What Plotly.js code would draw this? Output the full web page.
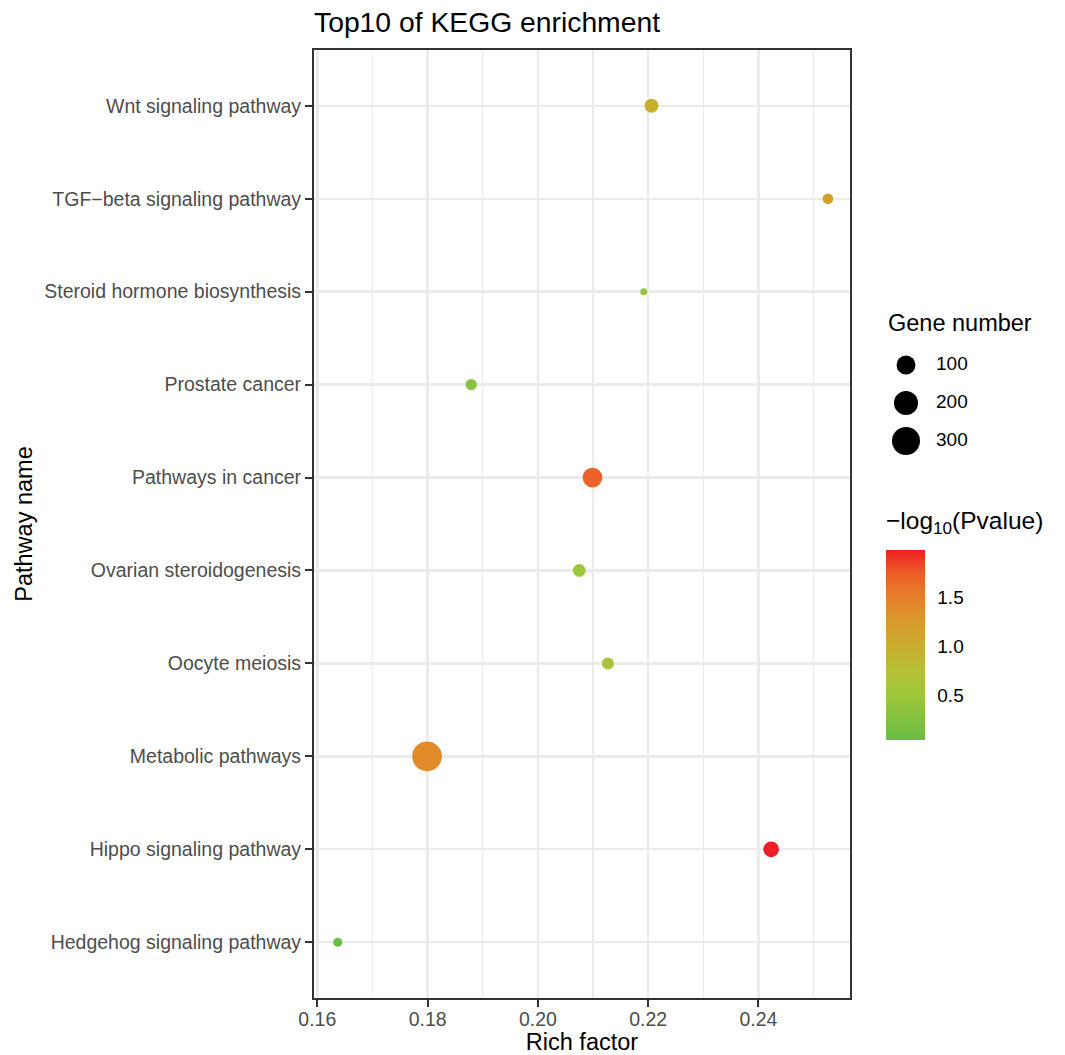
<!DOCTYPE html>
<html>
<head>
<meta charset="utf-8">
<script src="https://cdn.plot.ly/plotly-3.0.1.min.js"></script>
<style>html,body{margin:0;padding:0;background:#fff;}#chart{width:1065px;height:1055px;}</style>
</head>
<body>
<div id="chart"></div>
<script>
// ---------- data ----------
var pathways = [
  "Hedgehog signaling pathway",
  "Hippo signaling pathway",
  "Metabolic pathways",
  "Oocyte meiosis",
  "Ovarian steroidogenesis",
  "Pathways in cancer",
  "Prostate cancer",
  "Steroid hormone biosynthesis",
  "TGF\u2212beta signaling pathway",
  "Wnt signaling pathway"
];
var richFactor = [0.1637, 0.2423, 0.1799, 0.2127, 0.2075, 0.2099, 0.1879, 0.2192, 0.2526, 0.2206];
var geneNumber = [8, 56, 350, 22, 27, 113, 17, 5, 14, 38];
var negLog10P  = [0.04, 1.98, 1.40, 0.62, 0.48, 1.70, 0.30, 0.40, 1.22, 0.97];
var sizeLegendValues = [100, 200, 300];
var colorTickVals = [0.5, 1.0, 1.5];
var colorTickText = ["0.5", "1.0", "1.5"];

// ---------- styling helpers ----------
var FONT = "Liberation Sans, Arial, Helvetica, sans-serif";
var gMin = Math.min.apply(null, geneNumber), gMax = Math.max.apply(null, geneNumber);
function sizeOf(v){ var t = Math.max(0,(v-gMin)/(gMax-gMin)); return 7 + 22.7*Math.sqrt(t); }
var pMin = Math.min.apply(null, negLog10P), pMax = Math.max.apply(null, negLog10P);
var colorStops = [[0.04,"#6ABD45"],[0.25,"#82C13F"],[0.5,"#9EC73A"],[0.75,"#B6C034"],[1.0,"#C9AD2E"],[1.25,"#D89A2B"],[1.5,"#E6802A"],[1.75,"#EE5A26"],[1.98,"#EE1F24"]];
var colorscale = colorStops.map(function(s){ return [Math.min(1,Math.max(0,(s[0]-pMin)/(pMax-pMin))), s[1]]; });
colorscale[0][0] = 0; colorscale[colorscale.length-1][0] = 1;

// pixel geometry
var L = 314, R = 10, T = 50, B = 57, W = 1065 - L - R, H = 1055 - T - B;
function px2x(p){ return (p - L) / W; }
function px2y(p){ return (1055 - B - p) / H; }

var main = {
  type: "scatter", mode: "markers",
  x: richFactor, y: pathways,
  xaxis: "x", yaxis: "y",
  marker: {
    size: geneNumber.map(sizeOf),
    color: negLog10P, cmin: pMin, cmax: pMax, colorscale: colorscale,
    line: {width: 0}, opacity: 1,
    showscale: true,
    colorbar: {
      x: px2x(886), xanchor: "left", xpad: 0,
      y: px2y(645), yanchor: "middle", ypad: 0,
      len: 190, lenmode: "pixels", thickness: 39, thicknessmode: "pixels",
      outlinewidth: 0,
      tickvals: colorTickVals, ticktext: colorTickText,
      ticks: "outside", ticklen: 9, tickwidth: 1, tickcolor: "rgba(255,255,255,0)",
      tickfont: {family: FONT, size: 19, color: "#000"},
      title: {text: ""}
    }
  },
  hoverinfo: "skip", showlegend: false
};

var sizeLegend = {
  type: "scatter", mode: "markers",
  x: sizeLegendValues.map(function(){ return 0; }),
  y: sizeLegendValues.map(function(v,i){ return i; }),
  xaxis: "x2", yaxis: "y2",
  marker: {size: sizeLegendValues.map(sizeOf), color: "#000000", opacity: 1, line: {width: 0}},
  hoverinfo: "skip", showlegend: false
};
var sizeLegendText = {
  type: "scatter", mode: "text",
  x: sizeLegendValues.map(function(){ return 30; }),
  y: sizeLegendValues.map(function(v,i){ return i; }),
  text: sizeLegendValues.map(String),
  textposition: "middle right",
  textfont: {family: FONT, size: 19, color: "#000"},
  xaxis: "x2", yaxis: "y2",
  hoverinfo: "skip", showlegend: false
};

var layout = {
  width: 1065, height: 1055,
  margin: {l: L, r: R, t: T, b: B, pad: 0},
  paper_bgcolor: "#fff", plot_bgcolor: "#fff",
  font: {family: FONT, color: "#000"},
  title: {text: "Top10 of KEGG enrichment", x: 0, xref: "paper", xanchor: "left",
          y: 1 - 22/1055, yref: "container", yanchor: "middle",
          font: {family: FONT, size: 28.3, color: "#000"}},
  xaxis: {
    domain: [0, 536 / W], range: [0.1594, 0.2566], automargin: false,
    tick0: 0.16, dtick: 0.02, tickformat: ".2f",
    showgrid: true, gridcolor: "#EBEBEB", gridwidth: 2.4,
    minor: {tick0: 0.17, dtick: 0.02, showgrid: true, gridcolor: "#EBEBEB", gridwidth: 1.1, ticks: ""},
    zeroline: false,
    showline: true, mirror: true, linecolor: "#333333", linewidth: 2,
    ticks: "outside", ticklen: 7, tickwidth: 2, tickcolor: "#333333",
    ticklabelstandoff: -4,
    tickfont: {family: FONT, size: 19.5, color: "#4D4D4D"},
    title: {text: "Rich factor", standoff: 10, font: {family: FONT, size: 23.5, color: "#000"}}
  },
  yaxis: {
    type: "category", categoryorder: "array", categoryarray: pathways,
    range: [-0.6, 9.6], automargin: false,
    showgrid: true, gridcolor: "#EBEBEB", gridwidth: 2.4,
    zeroline: false,
    showline: true, mirror: true, linecolor: "#333333", linewidth: 2,
    ticks: "outside", ticklen: 7, tickwidth: 2, tickcolor: "#333333",
    tickfont: {family: FONT, size: 19.5, color: "#4D4D4D"},
    title: {text: "Pathway name", standoff: 5, font: {family: FONT, size: 23.5, color: "#000"}}
  },
  xaxis2: {domain: [px2x(886), px2x(1050)], range: [-20, 144], visible: false, fixedrange: true, anchor: "y2"},
  yaxis2: {domain: [px2y(460), px2y(346)], range: [2.5, -0.5], visible: false, fixedrange: true, anchor: "x2"},
  annotations: [
    {text: "Gene number", xref: "paper", yref: "paper", x: px2x(886), y: px2y(323),
     xanchor: "left", yanchor: "middle", showarrow: false,
     font: {family: FONT, size: 23.5, color: "#000"}},
    {text: "\u2212log<sub>10</sub>(Pvalue)", xref: "paper", yref: "paper", x: px2x(884), y: px2y(522),
     xanchor: "left", yanchor: "middle", showarrow: false,
     font: {family: FONT, size: 24.5, color: "#000"}}
  ],
  showlegend: false
};

Plotly.newPlot("chart", [main, sizeLegend, sizeLegendText], layout, {staticPlot: true, displayModeBar: false});
</script>
</body>
</html>
